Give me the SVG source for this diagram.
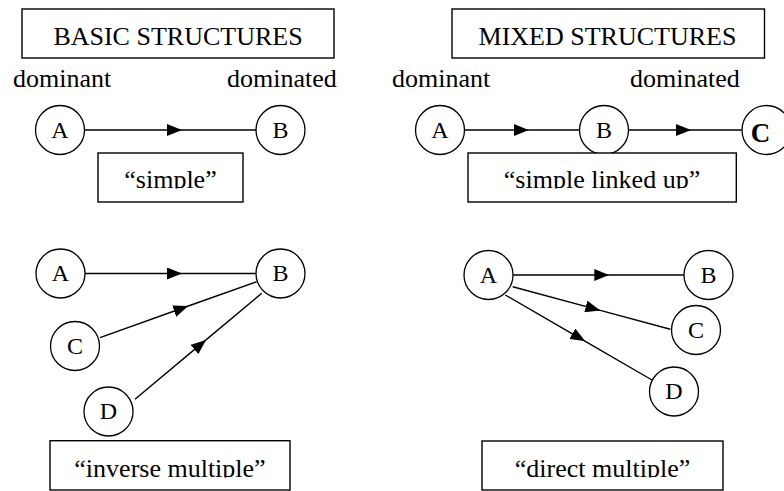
<svg xmlns="http://www.w3.org/2000/svg" width="784" height="491" viewBox="0 0 784 491">
<style>
text{font-family:'Liberation Serif','Times New Roman',Times,'DejaVu Serif',serif;fill:#000}
.t{font-size:26px;text-anchor:middle}
.h{font-size:26px}
.n{font-size:24px;text-anchor:middle}
.box{fill:#fff;stroke:#000;stroke-width:1.4}
.nd{fill:#fff;stroke:#000;stroke-width:1.3}
.e{fill:none;stroke:#000;stroke-width:1.4;marker-mid:url(#ah)}
</style>
<defs>
<marker id="ah" markerUnits="userSpaceOnUse" markerWidth="15" markerHeight="12" refX="15" refY="6" orient="auto">
<path d="M0,0 L15,6 L0,12 z" fill="#000"/>
</marker>
<clipPath id="c1"><rect x="0" y="150" width="784" height="38.5"/></clipPath>
<clipPath id="c2"><rect x="0" y="440" width="784" height="37.5"/></clipPath>
<clipPath id="c3"><rect x="740" y="100" width="44" height="42"/></clipPath>
</defs>

<g id="titles">
<rect class="box" x="22" y="9" width="312" height="49"/>
<text class="t" x="178" y="45" font-family="Liberation Serif, serif">BASIC STRUCTURES</text>
<rect class="box" x="452" y="9" width="312.5" height="49"/>
<text class="t" x="607.5" y="45" font-family="Liberation Serif, serif">MIXED STRUCTURES</text>
<text class="h" x="13" y="87" font-family="Liberation Serif, serif">dominant</text>
<text class="h" x="227" y="87" font-family="Liberation Serif, serif">dominated</text>
<text class="h" x="392" y="87" font-family="Liberation Serif, serif">dominant</text>
<text class="h" x="630" y="87" font-family="Liberation Serif, serif">dominated</text>
</g>

<g id="connectors">
<path class="e" d="M84.5,130 L182,130 L256,130"/>
<path class="e" d="M464.5,130 L528.7,130 L579.5,130"/>
<path class="e" d="M628.5,130 L691,130 L742,130"/>
<path class="e" d="M85,273.5 L182,273.5 L256,273.5"/>
<path class="e" d="M100,337.7 L188.3,306 L256.7,281.7"/>
<path class="e" d="M135,399.3 L206,339.9 L261.7,293.3"/>
<path class="e" d="M513,275 L609.3,275 L684,275"/>
<path class="e" d="M512.7,286.7 L600.3,310.4 L670.3,329.3"/>
<path class="e" d="M505.3,295 L585.3,341.3 L652,380"/>
</g>

<g id="simple-A"><circle class="nd" cx="60" cy="130" r="24.5"/><text class="n" x="60" y="137.5">A</text></g>
<g id="simple-B"><circle class="nd" cx="280.5" cy="130" r="24.5"/><text class="n" x="280.5" y="137.5">B</text></g>
<g id="simple-label"><rect class="box" x="98" y="153" width="145" height="49"/><text class="t" x="170.5" y="188" clip-path="url(#c1)">“simple”</text></g>

<g id="linked-A"><circle class="nd" cx="440" cy="130" r="24.5"/><text class="n" x="440" y="137.5">A</text></g>
<g id="linked-B"><circle class="nd" cx="604" cy="130" r="24.5"/><text class="n" x="604" y="137.5">B</text></g>
<g id="linked-C"><circle class="nd" cx="766.5" cy="130" r="24.5"/><text x="760.5" y="142" clip-path="url(#c3)" style="font-size:27px;font-weight:bold;text-anchor:middle">C</text></g>
<g id="linked-label"><rect class="box" x="468" y="153" width="268.3" height="49"/><text class="t" x="602" y="188" clip-path="url(#c1)">“simple linked up”</text></g>

<g id="inv-A"><circle class="nd" cx="60.5" cy="273.5" r="24.5"/><text class="n" x="60.5" y="281">A</text></g>
<g id="inv-B"><circle class="nd" cx="280.5" cy="273.5" r="24.5"/><text class="n" x="280.5" y="281">B</text></g>
<g id="inv-C"><circle class="nd" cx="75" cy="346" r="24.5"/><text class="n" x="75" y="353.5">C</text></g>
<g id="inv-D"><circle class="nd" cx="108.5" cy="411.5" r="24.5"/><text class="n" x="108.5" y="419">D</text></g>
<g id="inv-label"><rect class="box" x="50" y="440.7" width="240" height="49.3"/><text class="t" x="170" y="477" clip-path="url(#c2)">“inverse multiple”</text></g>

<g id="dir-A"><circle class="nd" cx="488.5" cy="275" r="24.5"/><text class="n" x="488.5" y="282.5">A</text></g>
<g id="dir-B"><circle class="nd" cx="708.5" cy="275" r="24.5"/><text class="n" x="708.5" y="282.5">B</text></g>
<g id="dir-C"><circle class="nd" cx="696" cy="330" r="24.5"/><text class="n" x="696" y="337.5">C</text></g>
<g id="dir-D"><circle class="nd" cx="674" cy="391.5" r="24.5"/><text class="n" x="674" y="399">D</text></g>
<g id="dir-label"><rect class="box" x="482" y="441" width="241" height="49"/><text class="t" x="602.5" y="477" clip-path="url(#c2)">“direct multiple”</text></g>
</svg>
